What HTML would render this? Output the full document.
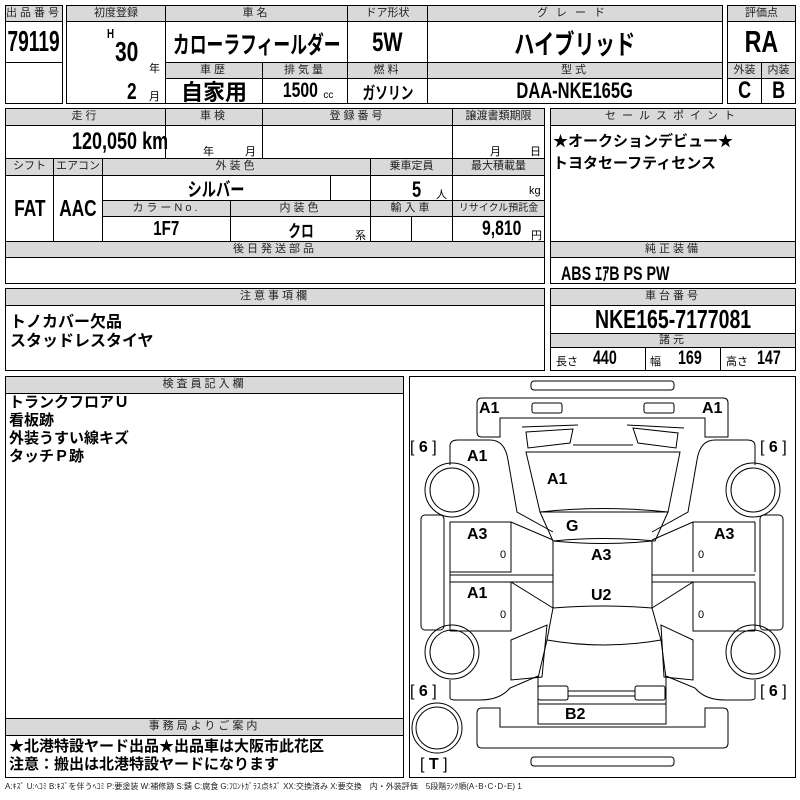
<!DOCTYPE html>
<html><head><meta charset="utf-8"><style>
body{margin:0;width:800px;height:800px;background:#fff;position:relative;overflow:hidden;font-family:"Liberation Sans","Noto Sans CJK JP",sans-serif;}
.c{position:absolute;border:1px solid #000;box-sizing:border-box;}
.h{background:#d9d9d9;font-size:11px;text-align:center;line-height:15px;letter-spacing:3px;color:#222;white-space:nowrap;overflow:hidden;}
.v{font-weight:bold;display:flex;align-items:center;justify-content:center;white-space:nowrap;}
.n{display:inline-block;transform:scaleX(.75);white-space:nowrap;}
.t{position:absolute;font-weight:bold;white-space:nowrap;transform:scaleX(.75);transform-origin:0 0;}
.s{position:absolute;font-size:11px;white-space:nowrap;}
</style></head><body>
<div class="c h" style="left:5px;top:5px;width:58px;height:17px">出品番号</div>
<div class="c v" style="left:5px;top:21px;width:58px;height:42px;font-size:29px"><span class="n" style="transform:scaleX(.66)">79119</span></div>
<div class="c" style="left:5px;top:62px;width:58px;height:42px"></div>
<div class="c h" style="left:66px;top:5px;width:100px;height:17px;letter-spacing:0">初度登録</div>
<div class="c h" style="left:165px;top:5px;width:183px;height:17px">車名</div>
<div class="c h" style="left:347px;top:5px;width:81px;height:17px;letter-spacing:0">ドア形状</div>
<div class="c h" style="left:427px;top:5px;width:296px;height:17px;letter-spacing:8px">グレード</div>
<div class="c" style="left:66px;top:21px;width:100px;height:83px"></div>
<div class="t" style="left:107px;top:26px;font-size:13px">H</div>
<div class="t" style="left:115px;top:36px;font-size:28px">30</div>
<div class="s" style="left:149px;top:60px">年</div>
<div class="t" style="left:127px;top:78px;font-size:23px">2</div>
<div class="s" style="left:149px;top:88px">月</div>
<div class="c v" style="left:165px;top:21px;width:183px;height:42px;font-size:24px"><span class="n" style="transform:scaleX(.7)">カローラフィールダー</span></div>
<div class="c v" style="left:347px;top:21px;width:81px;height:42px;font-size:27px"><span class="n">5W</span></div>
<div class="c v" style="left:427px;top:21px;width:296px;height:42px;font-size:27px"><span class="n">ハイブリッド</span></div>
<div class="c h" style="left:165px;top:62px;width:98px;height:17px">車歴</div>
<div class="c h" style="left:262px;top:62px;width:86px;height:17px">排気量</div>
<div class="c h" style="left:347px;top:62px;width:81px;height:17px">燃料</div>
<div class="c h" style="left:427px;top:62px;width:296px;height:17px">型式</div>
<div class="c v" style="left:165px;top:78px;width:98px;height:26px;font-size:22px">自家用</div>
<div class="c v" style="left:262px;top:78px;width:86px;height:26px;font-size:21px"><span class="n">1500</span><span style="font-size:10px;font-weight:normal;margin-top:8px">cc</span></div>
<div class="c v" style="left:347px;top:78px;width:81px;height:26px;font-size:17px"><span class="n">ガソリン</span></div>
<div class="c v" style="left:427px;top:78px;width:296px;height:26px;font-size:22px"><span class="n">DAA-NKE165G</span></div>
<div class="c h" style="left:727px;top:5px;width:69px;height:17px;letter-spacing:0">評価点</div>
<div class="c v" style="left:727px;top:21px;width:69px;height:42px;font-size:31px"><span class="n">RA</span></div>
<div class="c h" style="left:727px;top:62px;width:35px;height:17px;letter-spacing:0">外装</div>
<div class="c h" style="left:761px;top:62px;width:35px;height:17px;letter-spacing:0">内装</div>
<div class="c v" style="left:727px;top:78px;width:35px;height:26px;font-size:24px"><span class="n">C</span></div>
<div class="c v" style="left:761px;top:78px;width:35px;height:26px;font-size:24px"><span class="n">B</span></div>
<div class="c h" style="left:5px;top:108px;width:161px;height:18px">走行</div>
<div class="c h" style="left:165px;top:108px;width:98px;height:18px">車検</div>
<div class="c h" style="left:262px;top:108px;width:191px;height:18px">登録番号</div>
<div class="c h" style="left:452px;top:108px;width:93px;height:18px;letter-spacing:0">譲渡書類期限</div>
<div class="c" style="left:5px;top:125px;width:161px;height:34px"></div>
<div class="t" style="left:72px;top:128px;font-size:24px">120,050 km</div>
<div class="c" style="left:165px;top:125px;width:98px;height:34px"></div>
<div class="s" style="left:203px;top:143px">年</div><div class="s" style="left:245px;top:143px">月</div>
<div class="c" style="left:262px;top:125px;width:191px;height:34px"></div>
<div class="c" style="left:452px;top:125px;width:93px;height:34px"></div>
<div class="s" style="left:490px;top:143px">月</div><div class="s" style="left:530px;top:143px">日</div>
<div class="c h" style="left:5px;top:158px;width:49px;height:18px;letter-spacing:0">シフト</div>
<div class="c h" style="left:53px;top:158px;width:50px;height:18px;letter-spacing:0">エアコン</div>
<div class="c h" style="left:102px;top:158px;width:269px;height:18px">外装色</div>
<div class="c h" style="left:370px;top:158px;width:83px;height:18px;letter-spacing:0">乗車定員</div>
<div class="c h" style="left:452px;top:158px;width:93px;height:18px;letter-spacing:0">最大積載量</div>
<div class="c v" style="left:5px;top:175px;width:49px;height:67px;font-size:23px"><span class="n">FAT</span></div>
<div class="c v" style="left:53px;top:175px;width:50px;height:67px;font-size:23px"><span class="n">AAC</span></div>
<div class="c v" style="left:102px;top:175px;width:229px;height:26px;font-size:19px"><span class="n">シルバー</span></div>
<div class="c" style="left:330px;top:175px;width:41px;height:26px"></div>
<div class="c" style="left:370px;top:175px;width:83px;height:26px"></div>
<div class="t" style="left:412px;top:177px;font-size:22px">5</div><div class="s" style="left:436px;top:186px">人</div>
<div class="c" style="left:452px;top:175px;width:93px;height:26px"></div>
<div class="s" style="left:529px;top:185px">kg</div>
<div class="c h" style="left:102px;top:200px;width:129px;height:17px">カラーNo.</div>
<div class="c h" style="left:230px;top:200px;width:141px;height:17px">内装色</div>
<div class="c h" style="left:370px;top:200px;width:83px;height:17px">輸入車</div>
<div class="c h" style="left:452px;top:200px;width:93px;height:17px;letter-spacing:0;font-size:10px">リサイクル預託金</div>
<div class="c v" style="left:102px;top:216px;width:129px;height:26px;font-size:20px"><span class="n">1F7</span></div>
<div class="c v" style="left:230px;top:216px;width:141px;height:26px;font-size:17px"><span class="n">クロ</span></div>
<div class="s" style="left:355px;top:227px">系</div>
<div class="c" style="left:370px;top:216px;width:42px;height:26px"></div>
<div class="c" style="left:411px;top:216px;width:42px;height:26px"></div>
<div class="c" style="left:452px;top:216px;width:93px;height:26px"></div>
<div class="t" style="left:482px;top:217px;font-size:21px">9,810</div><div class="s" style="left:531px;top:227px">円</div>
<div class="c h" style="left:5px;top:241px;width:540px;height:17px">後日発送部品</div>
<div class="c" style="left:5px;top:257px;width:540px;height:27px"></div>
<div class="c h" style="left:550px;top:108px;width:246px;height:18px;letter-spacing:6px">セールスポイント</div>
<div class="c" style="left:550px;top:125px;width:246px;height:117px"></div>
<div class="t" style="left:553px;top:130px;font-size:15px;transform:none">★オークションデビュー★</div>
<div class="t" style="left:553px;top:152px;font-size:15px;transform:none">トヨタセーフティセンス</div>
<div class="c h" style="left:550px;top:241px;width:246px;height:17px">純正装備</div>
<div class="c" style="left:550px;top:257px;width:246px;height:27px"></div>
<div class="t" style="left:561px;top:259px;font-size:19px">ABS ｴｱB PS PW</div>
<div class="c h" style="left:5px;top:288px;width:540px;height:18px">注意事項欄</div>
<div class="c" style="left:5px;top:305px;width:540px;height:66px"></div>
<div class="t" style="left:10px;top:308px;font-size:16px;transform:none">トノカバー欠品</div>
<div class="t" style="left:10px;top:327px;font-size:16px;transform:none">スタッドレスタイヤ</div>
<div class="c h" style="left:550px;top:288px;width:246px;height:18px">車台番号</div>
<div class="c v" style="left:550px;top:305px;width:246px;height:29px;font-size:26px"><span class="n">NKE165-7177081</span></div>
<div class="c h" style="left:550px;top:333px;width:246px;height:15px;line-height:13px">諸元</div>
<div class="c" style="left:550px;top:347px;width:96px;height:24px"></div>
<div class="c" style="left:645px;top:347px;width:76px;height:24px"></div>
<div class="c" style="left:720px;top:347px;width:76px;height:24px"></div>
<div class="s" style="left:556px;top:353px">長さ</div><div class="t" style="left:593px;top:348px;font-size:19px">440</div>
<div class="s" style="left:650px;top:353px">幅</div><div class="t" style="left:678px;top:348px;font-size:19px">169</div>
<div class="s" style="left:726px;top:353px">高さ</div><div class="t" style="left:757px;top:348px;font-size:19px">147</div>
<div class="c h" style="left:5px;top:376px;width:399px;height:18px">検査員記入欄</div>
<div class="c" style="left:5px;top:393px;width:399px;height:326px"></div>
<div class="t" style="left:9px;top:394px;font-size:15px;line-height:18px;transform:none">トランクフロアＵ<br>看板跡<br>外装うすい線キズ<br>タッチＰ跡</div>
<div class="c h" style="left:5px;top:718px;width:399px;height:18px">事務局よりご案内</div>
<div class="c" style="left:5px;top:735px;width:399px;height:43px"></div>
<div class="t" style="left:9px;top:738px;font-size:15px;line-height:18px;transform:none">★北港特設ヤード出品★出品車は大阪市此花区<br>注意：搬出は北港特設ヤードになります</div>
<div class="c" style="left:409px;top:376px;width:387px;height:402px"></div>
<svg style="position:absolute;left:0;top:0" width="800" height="800" fill="none" stroke="#000" stroke-width="1">
<rect x="531" y="381" width="143" height="9" rx="3"/>
<path d="M482 398 H723 Q728 398 728 403 V437 H705 V418 H500 V437 H482 Q477 437 477 432 V403 Q477 398 482 398Z"/>
<rect x="532" y="403" width="30" height="10" rx="2"/><rect x="644" y="403" width="30" height="10" rx="2"/>
<path d="M522 427 L578 425 M627 425 L684 428"/>
<path d="M526 432 L573 429 L570 443 L528 448Z"/>
<path d="M633 428 L678 433 L676 448 L638 443Z"/>
<path d="M573 445 H633"/>
<path d="M526 452 L680 452 L668 512 L540 512Z"/>
<path d="M540 512 Q604 505 668 512 L655 541 Q604 536 553 541Z"/>
<path d="M553 541 Q604 546 652 541 L652 608 Q604 604 553 608Z"/>
<path d="M553 608 L547 640 Q604 650 661 640 L652 608"/>
<path d="M547 640 L538 678 L538 724 L666 724 L666 678 L661 640"/>
<rect x="538" y="686" width="30" height="14" rx="2"/><rect x="635" y="686" width="30" height="14" rx="2"/>
<path d="M568 691 H635 M568 696 H635"/>
<rect x="538" y="704" width="128" height="20"/>
<path d="M482 708 H500 V727 H705 V708 H723 Q728 708 728 713 V743 Q728 748 723 748 H482 Q477 748 477 743 V713 Q477 708 482 708Z"/>
<rect x="531" y="757" width="143" height="9" rx="3"/>
<path d="M450 465 V446 Q450 440 458 440 H490 Q505 440 508 460 L517 512 L553 532"/>
<path d="M450 522 H511 L553 540 M450 572 H511 V522 M450 572 V522 M450 575 H553 M450 582 H553 M450 582 H511 L553 608 M450 631 H511 V582 M450 631 V582 M450 572 V631"/>
<path d="M511 640 L547 625 L542 677 L511 680Z"/>
<path d="M450 680 V698 Q450 700 456 700 H480 Q500 700 510 688 L538 676"/>
<circle cx="452" cy="490" r="27"/><circle cx="452" cy="490" r="22"/>
<circle cx="452" cy="652" r="27"/><circle cx="452" cy="652" r="22"/>
<rect x="421" y="515" width="23" height="115" rx="4"/>
<circle cx="437" cy="728" r="25"/><circle cx="437" cy="728" r="21"/>
<path d="M755 465 V446 Q755 440 747 440 H715 Q700 440 697 460 L688 512 L652 532"/>
<path d="M755 522 H693 L652 540 M693 572 V522 M755 572 V522 M755 575 H652 M755 582 H652 M755 582 H693 L652 608 M755 631 H693 V582 M755 631 V582"/>
<path d="M693 640 L661 625 L664 677 L693 680Z"/>
<path d="M755 680 V698 Q755 700 749 700 H725 Q705 700 695 688 L666 676"/>
<circle cx="753" cy="490" r="27"/><circle cx="753" cy="490" r="22"/>
<circle cx="753" cy="652" r="27"/><circle cx="753" cy="652" r="22"/>
<rect x="760" y="515" width="23" height="115" rx="4"/>
</svg>
<div style="position:absolute;left:0;top:0;font-weight:bold;font-size:16px;white-space:nowrap">
<span style="position:absolute;left:479px;top:400px">A1</span>
<span style="position:absolute;left:702px;top:400px">A1</span>
<span style="position:absolute;left:467px;top:448px">A1</span>
<span style="position:absolute;left:547px;top:471px">A1</span>
<span style="position:absolute;left:566px;top:518px">G</span>
<span style="position:absolute;left:467px;top:526px">A3</span>
<span style="position:absolute;left:591px;top:547px">A3</span>
<span style="position:absolute;left:714px;top:526px">A3</span>
<span style="position:absolute;left:467px;top:585px">A1</span>
<span style="position:absolute;left:591px;top:587px">U2</span>
<span style="position:absolute;left:565px;top:706px">B2</span>
<span style="position:absolute;left:410px;top:439px;font-weight:normal">[ <b>6</b> ]</span>
<span style="position:absolute;left:760px;top:439px;font-weight:normal">[ <b>6</b> ]</span>
<span style="position:absolute;left:410px;top:683px;font-weight:normal">[ <b>6</b> ]</span>
<span style="position:absolute;left:760px;top:683px;font-weight:normal">[ <b>6</b> ]</span>
<span style="position:absolute;left:420px;top:756px;font-weight:normal">[ <b>T</b> ]</span>
<span style="position:absolute;left:500px;top:549px;font-size:11px;font-weight:normal">0</span>
<span style="position:absolute;left:500px;top:609px;font-size:11px;font-weight:normal">0</span>
<span style="position:absolute;left:698px;top:549px;font-size:11px;font-weight:normal">0</span>
<span style="position:absolute;left:698px;top:609px;font-size:11px;font-weight:normal">0</span>
</div>
<div style="position:absolute;left:5px;top:781px;font-size:8px;white-space:nowrap;color:#222">A:ｷｽﾞ U:ﾍｺﾐ B:ｷｽﾞを伴うﾍｺﾐ P:要塗装 W:補修跡 S:錆 C:腐食 G:ﾌﾛﾝﾄｶﾞﾗｽ点ｷｽﾞ XX:交換済み X:要交換　内・外装評価　5段階ﾗﾝｸ順(A･B･C･D･E) 1</div>
</body></html>
